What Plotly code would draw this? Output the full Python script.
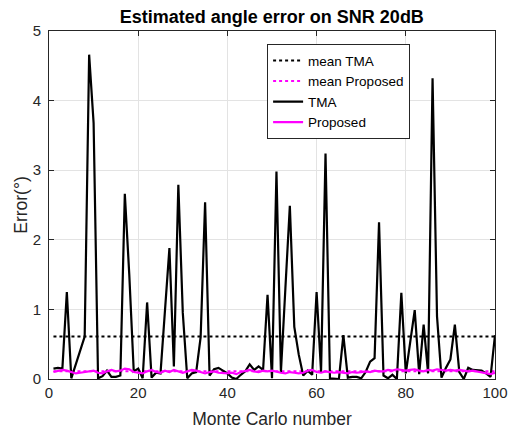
import plotly.graph_objects as go

runs = list(range(1, 101))

tma_error = [
    0.15, 0.16, 0.15, 1.25, 0.01, 0.20, 0.40, 0.61, 4.66, 3.68,
    0.01, 0.04, 0.12, 0.03, 0.03, 0.05, 2.66, 1.50, 0.11, 0.15,
    0.01, 1.10, 0.02, 0.09, 0.08, 0.95, 1.88, 0.18, 2.79, 0.95,
    0.01, 0.08, 0.10, 0.60, 2.54, 0.05, 0.14, 0.16, 0.12, 0.08,
    0.02, 0.00, 0.06, 0.11, 0.21, 0.13, 0.18, 0.13, 1.21, 0.01,
    2.98, 0.10, 1.30, 2.49, 0.75, 0.35, 0.05, 0.12, 0.06, 1.25,
    0.10, 3.24, 0.01, 0.00, 0.00, 0.63, 0.02, 0.03, 0.03, 0.01,
    0.10, 0.25, 0.30, 2.25, 0.05, 0.01, 0.06, 0.00, 1.24, 0.08,
    0.55, 0.99, 0.07, 0.78, 0.08, 4.32, 0.90, 0.02, 0.16, 0.28,
    0.78, 0.10, 0.00, 0.16, 0.13, 0.12, 0.12, 0.08, 0.03, 0.63,
]

proposed_error = [
    0.10, 0.12, 0.13, 0.12, 0.10, 0.08, 0.09, 0.10, 0.11, 0.12,
    0.09, 0.08, 0.11, 0.13, 0.11, 0.12, 0.15, 0.14, 0.10, 0.09,
    0.08, 0.11, 0.13, 0.10, 0.09, 0.12, 0.10, 0.13, 0.11, 0.09,
    0.11, 0.13, 0.12, 0.10, 0.08, 0.10, 0.11, 0.09, 0.08, 0.08,
    0.09, 0.07, 0.10, 0.12, 0.13, 0.11, 0.10, 0.12, 0.11, 0.12,
    0.10, 0.09, 0.08, 0.10, 0.09, 0.08, 0.09, 0.12, 0.13, 0.10,
    0.09, 0.11, 0.10, 0.09, 0.10, 0.09, 0.08, 0.10, 0.09, 0.10,
    0.11, 0.10, 0.12, 0.11, 0.11, 0.13, 0.12, 0.14, 0.13, 0.12,
    0.13, 0.14, 0.12, 0.11, 0.13, 0.12, 0.14, 0.13, 0.12, 0.13,
    0.12, 0.13, 0.12, 0.11, 0.12, 0.11, 0.10, 0.09, 0.07, 0.09,
]

mean_tma = 0.61
mean_proposed = 0.11

x_ticks = [0, 20, 40, 60, 80, 100]
y_ticks = [0, 1, 2, 3, 4, 5]

FONT = "Liberation Sans, Arial, Helvetica, sans-serif"
TXT = "#262626"

fig = go.Figure()
fig.add_trace(go.Scatter(x=[runs[0], runs[-1]], y=[mean_tma, mean_tma], mode="lines",
                         name="mean TMA", line=dict(color="black", width=2, dash="dot")))
fig.add_trace(go.Scatter(x=[runs[0], runs[-1]], y=[mean_proposed, mean_proposed], mode="lines",
                         name="mean Proposed", line=dict(color="#ff00ff", width=2, dash="dot")))
fig.add_trace(go.Scatter(x=runs, y=tma_error, mode="lines", name="TMA",
                         line=dict(color="black", width=2.2)))
fig.add_trace(go.Scatter(x=runs, y=proposed_error, mode="lines", name="Proposed",
                         line=dict(color="#ff00ff", width=2.2)))

axis_common = dict(
    showgrid=True, gridcolor="#e3e3e3", gridwidth=1,
    showline=True, linecolor="#262626", linewidth=1, mirror="allticks",
    ticks="inside", ticklen=5, tickcolor="#262626", automargin=False,
    zeroline=False, tickfont=dict(family=FONT, size=15, color=TXT),
)

fig.update_layout(
    width=509, height=434,
    margin=dict(l=49, r=14, t=31, b=55),
    paper_bgcolor="white", plot_bgcolor="white",
    title=dict(text="<b>Estimated angle error on SNR 20dB</b>", x=(48.7 + 495) / 2 / 509,
               xanchor="center", y=1 - 16.5 / 434, yanchor="middle",
               font=dict(family=FONT, size=18, color="black")),
    xaxis=dict(range=[0, 100], tickvals=x_ticks,
               title=dict(text="Monte Carlo number", font=dict(family=FONT, size=17.5, color=TXT), standoff=12),
               **axis_common),
    yaxis=dict(range=[0, 5], tickvals=y_ticks, ticklabelstandoff=4,
               title=dict(text="Error(°)", font=dict(family=FONT, size=17.5, color=TXT), standoff=0),
               **axis_common),
    legend=dict(x=0.489, y=0.962, xanchor="left", yanchor="top",
                bgcolor="white", bordercolor="#262626", borderwidth=1,
                font=dict(family=FONT, size=13.5, color="black"),
                tracegroupgap=0, itemwidth=30),
    showlegend=True,
)

fig.write_html("out.html", config={"displayModeBar": False},
               post_script="document.body.style.margin='0';document.body.style.padding='0';")
